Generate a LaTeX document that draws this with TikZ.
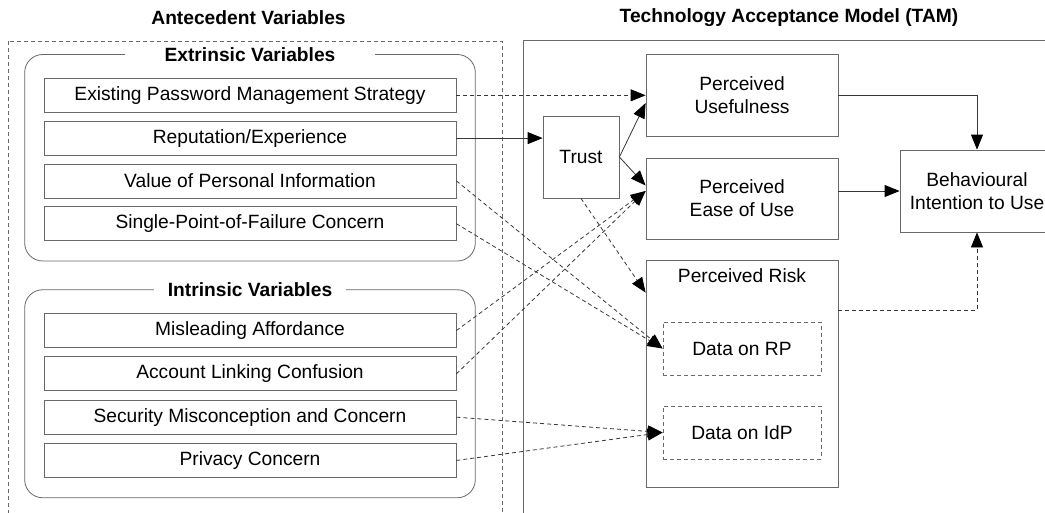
\documentclass[tikz,border=0pt]{standalone}
\usepackage{fontspec}
\setmainfont{Liberation Sans}
\usetikzlibrary{positioning,calc,matrix,arrows.meta}
\definecolor{myline}{RGB}{105,105,105}
\definecolor{myarrow}{RGB}{55,55,55}

\begin{document}
\begin{tikzpicture}[x=1pt,y=-1pt,line width=0.8pt,
  font=\fontsize{19.2}{23}\selectfont,
  grp/.style={matrix of nodes,row sep=8pt,
    inner xsep=18.5pt,inner ysep=19.5pt,nodes={varnode}},
  grpbox/.style={draw=myline,rounded corners=18pt},
  varnode/.style={draw=myline,minimum width=412pt,minimum height=34pt,inner sep=0pt},
  grptitle/.style={fill=white,font=\bfseries\fontsize{19.2}{23}\selectfont,inner ysep=1pt},
  tamnode/.style={draw=myline,align=center,inner sep=0pt},
  datanode/.style={tamnode,dash pattern=on 4pt off 3pt},
  solidarr/.style={draw=myarrow,-{Triangle[length=15pt,width=12pt,color=black]}},
  dasharr/.style={solidarr,dash pattern=on 4pt off 3pt}]

  \useasboundingbox (0,0) rectangle (1045,512);
  \clip (0,0) rectangle (1045,512);

  % titles and frames
  \node[font=\bfseries\fontsize{19.2}{23}\selectfont] (antetitle) at (248.5,18) {Antecedent Variables};
  \node[font=\bfseries\fontsize{19.2}{23}\selectfont] (tamtitle) at (789,18) {Technology Acceptance Model (TAM)};
  \draw[myline,dash pattern=on 4pt off 3pt] (8,41) rectangle (502,530);
  \draw[myline] (523,40) rectangle (1070,530);

  % antecedent variables
  \matrix[grp] (ext) at (250,159.5) {
    Existing Password Management Strategy\\
    Reputation/Experience\\
    Value of Personal Information\\
    Single-Point-of-Failure Concern\\};
  \coordinate (exttop) at ($(ext.north)+(0,-3.5)$);
  \draw[grpbox] (exttop -| ext.west) rectangle (ext.south east);
  \node[grptitle,inner xsep=40pt] (exttitle) at (exttop) {Extrinsic Variables};

  \matrix[grp,row sep=8.5pt] (int) at (250,395.5) {
    Misleading Affordance\\
    Account Linking Confusion\\
    Security Misconception and Concern\\
    Privacy Concern\\};
  \coordinate (inttop) at ($(int.north)+(0,-3.5)$);
  \draw[grpbox] (inttop -| int.west) rectangle (int.south east);
  \node[grptitle,inner xsep=14pt] (inttitle) at (inttop) {Intrinsic Variables};

  % TAM
  \node[tamnode,minimum width=76pt,minimum height=82pt] (trust) at (581,157) {Trust};
  \node[tamnode,minimum width=192pt,minimum height=82pt] (pu) at (742,95) {Perceived\\Usefulness};
  \node[tamnode,minimum width=192pt,minimum height=81pt] (peou) at (742,198.5) {Perceived\\Ease of Use};
  \node[tamnode,minimum width=154pt,minimum height=82pt] (bi) at (977,191) {Behavioural\\Intention to Use};
  \node[tamnode,minimum width=192pt,minimum height=227pt] (pr) at (742,373.5) {};
  \node (prtitle) at ($(pr.north)+(0,16)$) {Perceived Risk};
  \node[datanode,minimum width=158pt,minimum height=53pt] (rp) at (742,348.5) {Data on RP};
  \node[datanode,minimum width=158pt,minimum height=53pt] (idp) at (742,432.5) {Data on IdP};

  % connectors
  \draw[dasharr] (ext-1-1.east) -- (ext-1-1.east -| pu.west);
  \draw[solidarr] (ext-2-1.east) -- (ext-2-1.east -| trust.west);
  \draw[dasharr] (ext-3-1.east) -- (rp.west);
  \draw[dasharr] (ext-4-1.east) -- (rp.west);
  \draw[dasharr] (int-1-1.east) -- (peou.west |- bi.west);
  \draw[dasharr] (int-2-1.east) -- (peou.west |- bi.west);
  \draw[dasharr] (int-3-1.east) -- (idp.west);
  \draw[dasharr] (int-4-1.east) -- (idp.west);
  \draw[solidarr] (trust.east) -- ($(pu.west)+(0,8)$);
  \draw[solidarr] (trust.east) -- ($(peou.west)+(0,-13)$);
  \draw[dasharr] (trust.south) -- ($(pr.north west)+(0,33)$);
  \draw[solidarr] (pu.east) -| (bi.north);
  \draw[solidarr] (peou.east |- bi.west) -- (bi.west);
  \draw[dasharr] ($(pr.north east)+(0,51)$) -| (bi.south);
\end{tikzpicture}
\end{document}
